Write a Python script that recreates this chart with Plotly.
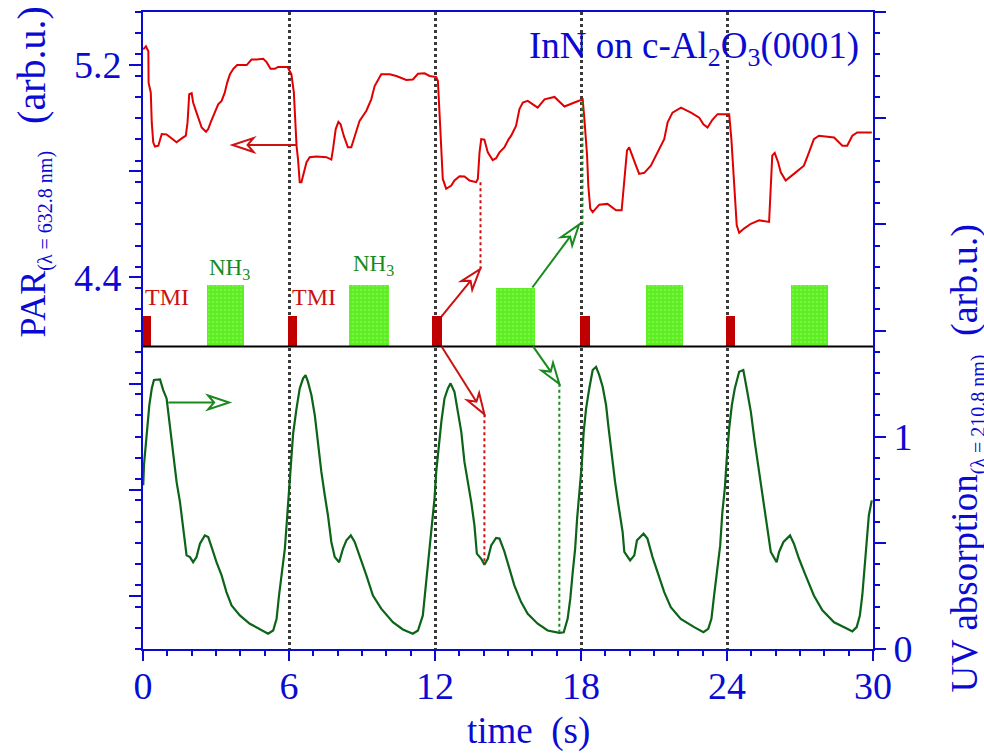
import math
import plotly.graph_objects as go

# ---------------- data ----------------
# reflectance (PAR) trace, left axis
time_par = [0.01, 0.12, 0.22, 0.23, 0.32, 0.36, 0.42, 0.49, 0.63, 0.73, 0.77, 0.97, 1.18, 1.38, 1.59,
            1.76, 1.83, 1.90, 2.00, 2.06, 2.20, 2.41, 2.59, 2.68, 2.78, 2.95, 3.09, 3.23, 3.36, 3.46,
            3.57, 3.71, 3.87, 4.26, 4.46, 4.67, 4.94, 5.08, 5.24, 5.42, 5.55, 5.94, 6.10, 6.20, 6.28,
            6.31, 6.37, 6.44, 6.51, 6.61, 6.72, 6.85, 7.13, 7.54, 7.74, 7.81, 7.92, 8.03, 8.12, 8.25,
            8.42, 8.56, 8.70, 8.90, 9.18, 9.38, 9.52, 9.66, 9.79, 10.14, 10.41, 10.82, 11.09, 11.30,
            11.57, 11.78, 12.05, 12.12, 12.19, 12.26, 12.32, 12.46, 12.67, 12.80, 13.01, 13.21, 13.42,
            13.69, 13.76, 13.83, 13.90, 14.03, 14.17, 14.37, 14.51, 14.65, 14.85, 15.03, 15.13, 15.33,
            15.47, 15.61, 15.81, 16.22, 16.50, 16.91, 17.32, 17.73, 18.07, 18.14, 18.25, 18.30, 18.38,
            18.48, 18.75, 19.09, 19.44, 19.67, 19.78, 19.89, 19.98, 20.12, 20.26, 20.39, 20.60, 20.87,
            21.14, 21.42, 21.56, 21.76, 22.11, 22.52, 22.86, 23.03, 23.20, 23.40, 23.61, 23.95, 24.09,
            24.18, 24.26, 24.32, 24.40, 24.50, 24.70, 24.98, 25.32, 25.73, 25.80, 25.86, 25.96, 26.10,
            26.21, 26.41, 26.75, 27.16, 27.37, 27.57, 27.78, 28.40, 28.74, 28.94, 29.15, 29.35, 29.95]
par_signal = [5.259, 5.271, 5.252, 5.134, 5.096, 4.984, 4.909, 4.893, 4.896, 4.934, 4.940, 4.939, 4.924,
              4.909, 4.924, 4.934, 4.984, 5.090, 5.094, 5.059, 5.021, 4.965, 4.949, 4.959, 4.984, 5.021,
              5.052, 5.065, 5.096, 5.134, 5.165, 5.186, 5.200, 5.200, 5.221, 5.221, 5.224, 5.211, 5.186,
              5.186, 5.193, 5.193, 5.165, 5.096, 4.959, 4.896, 4.846, 4.759, 4.759, 4.796, 4.834, 4.853,
              4.856, 4.853, 4.844, 4.884, 4.959, 4.986, 4.977, 4.934, 4.890, 4.890, 4.934, 4.990, 5.028,
              5.071, 5.121, 5.146, 5.165, 5.165, 5.159, 5.144, 5.146, 5.167, 5.169, 5.159, 5.155, 5.140,
              5.021, 4.853, 4.771, 4.734, 4.746, 4.765, 4.781, 4.780, 4.765, 4.759, 4.771, 4.871, 4.921,
              4.919, 4.871, 4.842, 4.849, 4.871, 4.890, 4.921, 4.934, 4.971, 5.034, 5.059, 5.065, 5.040,
              5.071, 5.080, 5.044, 5.059, 5.071, 4.996, 4.859, 4.746, 4.659, 4.646, 4.674, 4.677, 4.653,
              4.653, 4.759, 4.878, 4.890, 4.859, 4.821, 4.790, 4.794, 4.821, 4.871, 4.921, 4.984, 5.021,
              5.040, 5.021, 5.002, 4.977, 4.965, 4.994, 5.015, 5.015, 5.015, 4.921, 4.809, 4.696, 4.596,
              4.568, 4.584, 4.602, 4.615, 4.609, 4.721, 4.859, 4.869, 4.834, 4.796, 4.765, 4.790, 4.821,
              4.871, 4.921, 4.934, 4.927, 4.896, 4.896, 4.934, 4.946, 4.946]

# UV absorption trace, right axis
time_uv = [0.01, 0.04, 0.15, 0.26, 0.36, 0.45, 0.70, 0.83, 0.97, 1.11, 1.24, 1.38, 1.52, 1.65, 1.79,
           1.93, 2.06, 2.20, 2.34, 2.54, 2.68, 2.82, 3.02, 3.23, 3.43, 3.64, 3.98, 4.39, 4.80, 5.14,
           5.35, 5.49, 5.59, 5.73, 5.83, 5.90, 5.99, 6.06, 6.17, 6.31, 6.44, 6.58, 6.68, 6.78, 6.92,
           7.06, 7.19, 7.33, 7.47, 7.60, 7.74, 7.88, 8.06, 8.22, 8.36, 8.54, 8.70, 8.90, 9.18, 9.45,
           9.79, 10.27, 10.68, 11.09, 11.30, 11.50, 11.61, 11.71, 11.85, 11.98, 12.05, 12.16, 12.26,
           12.39, 12.53, 12.64, 12.80, 12.94, 13.08, 13.21, 13.35, 13.49, 13.62, 13.72, 13.90, 14.03,
           14.17, 14.31, 14.51, 14.65, 14.85, 15.06, 15.26, 15.54, 15.81, 16.22, 16.63, 17.11, 17.29,
           17.45, 17.56, 17.66, 17.76, 17.84, 17.93, 18.03, 18.11, 18.21, 18.34, 18.48, 18.62, 18.75,
           18.89, 19.03, 19.12, 19.26, 19.40, 19.54, 19.71, 19.78, 20.02, 20.19, 20.30, 20.57, 20.73,
           20.94, 21.14, 21.42, 21.69, 22.10, 22.65, 23.03, 23.23, 23.36, 23.47, 23.61, 23.72, 23.81,
           23.91, 23.99, 24.09, 24.20, 24.32, 24.50, 24.67, 24.81, 24.98, 25.14, 25.28, 25.41, 25.55,
           25.69, 25.80, 26.04, 26.14, 26.32, 26.59, 26.75, 26.96, 27.23, 27.57, 27.92, 28.40, 28.94,
           29.15, 29.33, 29.46, 29.56, 29.66, 29.74, 29.83, 29.95]
uv_signal = [0.771, 0.866, 1.007, 1.149, 1.227, 1.267, 1.270, 1.219, 1.180, 1.054, 0.913, 0.787, 0.692,
             0.567, 0.441, 0.433, 0.409, 0.433, 0.496, 0.535, 0.527, 0.480, 0.409, 0.347, 0.268, 0.205,
             0.158, 0.119, 0.095, 0.072, 0.087, 0.142, 0.252, 0.378, 0.473, 0.583, 0.724, 0.866, 1.015,
             1.133, 1.227, 1.275, 1.290, 1.258, 1.196, 1.101, 0.960, 0.834, 0.724, 0.630, 0.504, 0.433,
             0.409, 0.473, 0.512, 0.535, 0.504, 0.441, 0.347, 0.252, 0.190, 0.126, 0.092, 0.072, 0.087,
             0.158, 0.284, 0.409, 0.551, 0.708, 0.834, 0.975, 1.070, 1.180, 1.227, 1.251, 1.211, 1.117,
             1.023, 0.881, 0.787, 0.692, 0.583, 0.449, 0.425, 0.397, 0.425, 0.488, 0.523, 0.520, 0.460,
             0.378, 0.300, 0.221, 0.166, 0.119, 0.087, 0.076, 0.079, 0.142, 0.237, 0.362, 0.473, 0.614,
             0.724, 0.866, 1.023, 1.133, 1.227, 1.314, 1.329, 1.290, 1.235, 1.149, 1.054, 0.913, 0.787,
             0.677, 0.551, 0.457, 0.417, 0.441, 0.512, 0.543, 0.520, 0.433, 0.362, 0.268, 0.197, 0.142,
             0.103, 0.079, 0.095, 0.142, 0.252, 0.378, 0.488, 0.645, 0.756, 0.897, 1.039, 1.149, 1.227,
             1.306, 1.314, 1.227, 1.117, 0.975, 0.866, 0.756, 0.661, 0.535, 0.457, 0.409, 0.457, 0.504,
             0.535, 0.496, 0.425, 0.347, 0.252, 0.182, 0.126, 0.095, 0.083, 0.103, 0.158, 0.252, 0.378,
             0.488, 0.630, 0.700]

# precursor pulse sequence (drawn against the left axis)
tmi_start = [0.00, 5.95, 11.88, 17.97, 23.96]
tmi_end = [0.34, 6.31, 12.27, 18.38, 24.33]
nh3_start = [2.64, 8.45, 14.51, 20.68, 26.63]
nh3_end = [4.14, 10.10, 16.09, 22.20, 28.15]
pulse_base = 4.14
tmi_top = [4.253, 4.253, 4.253, 4.253, 4.253]
nh3_top = [4.372, 4.372, 4.362, 4.372, 4.372]

# arrows: (t0, v0, t1, v1, axis)
par_arrow = (6.31, 4.899, 3.68, 4.899, "y")
uv_arrow = (1.04, 1.161, 3.54, 1.161, "y2")
tmi_arrows = [(12.27, 4.253, 13.85, 4.431, "y"), (12.27, 4.140, 14.03, 3.884, "y")]
nh3_arrows = [(16.00, 4.362, 17.92, 4.599, "y"), (16.03, 4.140, 17.11, 3.999, "y")]
# dotted guides: (t, v_from, v_to)
tmi_guides = [(13.87, 4.431, 4.77), (14.03, 3.884, 3.318)]
nh3_guides = [(18.06, 4.599, 5.07), (17.11, 3.999, 3.065)]

# ---------------- styling / geometry ----------------
W, H = 984, 755
ML, MR, MT, MB = 143, 111, 10, 106
PW, PH = W - ML - MR, H - MT - MB
X_RANGE = [0, 30]
PAR_RANGE = [3.0, 5.4]
UV_RANGE = [0.0, 3.0]

BLUE = "#0a0ad2"
RED = "#e00000"
DARKRED = "#c00000"
GREEN_LINE = "#0b6418"
GREEN = "#188a1c"
SERIF = "Liberation Serif, Times New Roman, serif"

px_t = PW / (X_RANGE[1] - X_RANGE[0])
px_axis = {"y": PH / (PAR_RANGE[1] - PAR_RANGE[0]), "y2": PH / (UV_RANGE[1] - UV_RANGE[0])}


def paper_x(px):
    return (px - ML) / PW


def paper_y(py):
    return (MT + PH - py) / PH


def arrow_shapes(a, color, length=21, half=7, notch=15):
    t0, v0, t1, v1, ax = a
    sy = px_axis[ax]
    dx, dy = (t1 - t0) * px_t, (v1 - v0) * sy
    n = math.hypot(dx, dy)
    ux, uy = dx / n, dy / n
    nx, ny = -uy, ux

    def pt(back, side):
        px = -ux * back + nx * side
        py = -uy * back + ny * side
        return t1 + px / px_t, v1 + py / sy

    c1 = pt(length, half)
    c2 = pt(length, -half)
    nt = pt(notch, 0)
    shaft = dict(type="line", xref="x", yref=ax, x0=t0, y0=v0, x1=nt[0], y1=nt[1],
                 line=dict(color=color, width=2))
    head = dict(type="path", xref="x", yref=ax,
                path=f"M {c1[0]},{c1[1]} L {t1},{v1} L {c2[0]},{c2[1]} L {nt[0]},{nt[1]} Z",
                line=dict(color=color, width=2), fillcolor="white")
    return [shaft, head]


def guide_shape(g, color):
    t, a, b = g
    return dict(type="line", xref="x", yref="y", x0=t, x1=t, y0=a, y1=b,
                line=dict(color=color, width=2, dash="dot"))


fig = go.Figure()

# pulses
fig.add_trace(go.Bar(
    x=[(s + e) / 2 for s, e in zip(tmi_start, tmi_end)],
    y=[t - pulse_base for t in tmi_top], base=pulse_base,
    width=[e - s for s, e in zip(tmi_start, tmi_end)],
    marker=dict(color=DARKRED, line=dict(width=0)), yaxis="y", hoverinfo="skip"))
fig.add_trace(go.Bar(
    x=[(s + e) / 2 for s, e in zip(nh3_start, nh3_end)],
    y=[t - pulse_base for t in nh3_top], base=pulse_base,
    width=[e - s for s, e in zip(nh3_start, nh3_end)],
    marker=dict(color="#5ded22", line=dict(width=0),
                pattern=dict(shape=".", fgcolor="#8dff5e", bgcolor="#5ded22", size=4, solidity=0.35)),
    yaxis="y", hoverinfo="skip"))

# baseline of the pulse sequence
fig.add_trace(go.Scatter(x=X_RANGE, y=[pulse_base, pulse_base], mode="lines",
                         line=dict(color="black", width=2), yaxis="y", hoverinfo="skip"))

# signals
fig.add_trace(go.Scatter(x=time_par, y=par_signal, mode="lines",
                         line=dict(color=RED, width=2), yaxis="y"))
fig.add_trace(go.Scatter(x=time_uv, y=uv_signal, mode="lines",
                         line=dict(color=GREEN_LINE, width=2.2), yaxis="y2"))

shapes = []
for g in tmi_guides:
    shapes.append(guide_shape(g, "#cc1111"))
for g in nh3_guides:
    shapes.append(guide_shape(g, GREEN))
shapes += arrow_shapes(par_arrow, "#cc1111")
shapes += arrow_shapes(uv_arrow, GREEN)
for a in tmi_arrows:
    shapes += arrow_shapes(a, "#cc1111")
for a in nh3_arrows:
    shapes += arrow_shapes(a, GREEN)


def label(x, y, text, size, color, xref="x", yref="y", xanchor="center", yanchor="middle", angle=0):
    return dict(x=x, y=y, xref=xref, yref=yref, text=text, showarrow=False,
                xanchor=xanchor, yanchor=yanchor, textangle=angle,
                font=dict(family=SERIF, size=size, color=color))


annotations = [
    # pulse labels
    label(0.99, 4.326, "TMI", 24, "#cc1111"),
    label(7.02, 4.326, "TMI", 24, "#cc1111"),
    label(3.56, 4.432, "NH<sub>3</sub>", 23, GREEN),
    label(9.48, 4.447, "NH<sub>3</sub>", 23, GREEN),
    # sample label
    label(paper_x(861), paper_y(47), "InN on c-Al<sub>2</sub>O<sub>3</sub>(0001)", 37, BLUE,
          xref="paper", yref="paper", xanchor="right"),
    # axis titles
    label(paper_x(528), paper_y(731), "time\u00a0\u00a0(s)", 37, BLUE, xref="paper", yref="paper"),
    label(paper_x(33), paper_y(171),
          "PAR<sub><span style='font-size:20px'>(\u03bb = 632.8 nm)</span></sub>\u00a0\u00a0\u00a0"
          "<span style='font-size:40px'>(arb.u.)</span>",
          36, BLUE, xref="paper", yref="paper", angle=-90),
    label(paper_x(967), paper_y(458),
          "UV absorption<sub><span style='font-size:20px'>(\u03bb = 210.8 nm)</span></sub>\u00a0\u00a0"
          "<span style='font-size:38px'>(arb.u.)</span>",
          37, BLUE, xref="paper", yref="paper", angle=-90),
]

tick_font = dict(family=SERIF, size=38, color=BLUE)
par_ticks = [3.2, 3.6, 4.0, 4.4, 4.8, 5.2]
par_labels = ["", "", "", "4.4", "", "5.2"]
uv_ticks = [0, 0.5, 1.0, 1.5, 2.0, 2.5, 3.0]
uv_labels = ["0", "", "1", "", "", "", ""]

fig.update_layout(
    width=W, height=H,
    margin=dict(l=ML, r=MR, t=MT, b=MB, pad=0),
    paper_bgcolor="white", plot_bgcolor="white",
    showlegend=False, barmode="overlay", bargap=0,
    shapes=shapes, annotations=annotations,
    xaxis=dict(range=X_RANGE, tickmode="linear", tick0=0, dtick=6,
               ticks="outside", ticklen=10, tickwidth=2, tickcolor=BLUE,
               showline=True, linecolor=BLUE, linewidth=2, mirror=True,
               showgrid=True, gridcolor="#3a3a3a", griddash="dot", gridwidth=2.5,
               zeroline=False, tickfont=tick_font, ticklabelstandoff=-8,
               minor=dict(ticks="outside", ticklen=5, tickwidth=2, tickcolor=BLUE,
                          tick0=0, dtick=1, showgrid=False)),
    yaxis=dict(range=PAR_RANGE, tickmode="array", tickvals=par_ticks, ticktext=par_labels,
               ticks="outside", ticklen=12, tickwidth=2, tickcolor=BLUE,
               showline=True, linecolor=BLUE, linewidth=2,
               showgrid=False, zeroline=False, tickfont=tick_font,
               minor=dict(ticks="outside", ticklen=6, tickwidth=2, tickcolor=BLUE,
                          tick0=3.0, dtick=0.08, showgrid=False)),
    yaxis2=dict(range=UV_RANGE, overlaying="y", side="right", anchor="x",
                tickmode="array", tickvals=uv_ticks, ticktext=uv_labels,
                ticks="outside", ticklen=11, tickwidth=2, tickcolor=BLUE,
                showline=True, linecolor=BLUE, linewidth=2,
                showgrid=False, zeroline=False, tickfont=tick_font,
                minor=dict(ticks="outside", ticklen=5, tickwidth=2, tickcolor=BLUE,
                           tick0=0, dtick=0.1, showgrid=False)),
)

fig.write_html("out.html")
